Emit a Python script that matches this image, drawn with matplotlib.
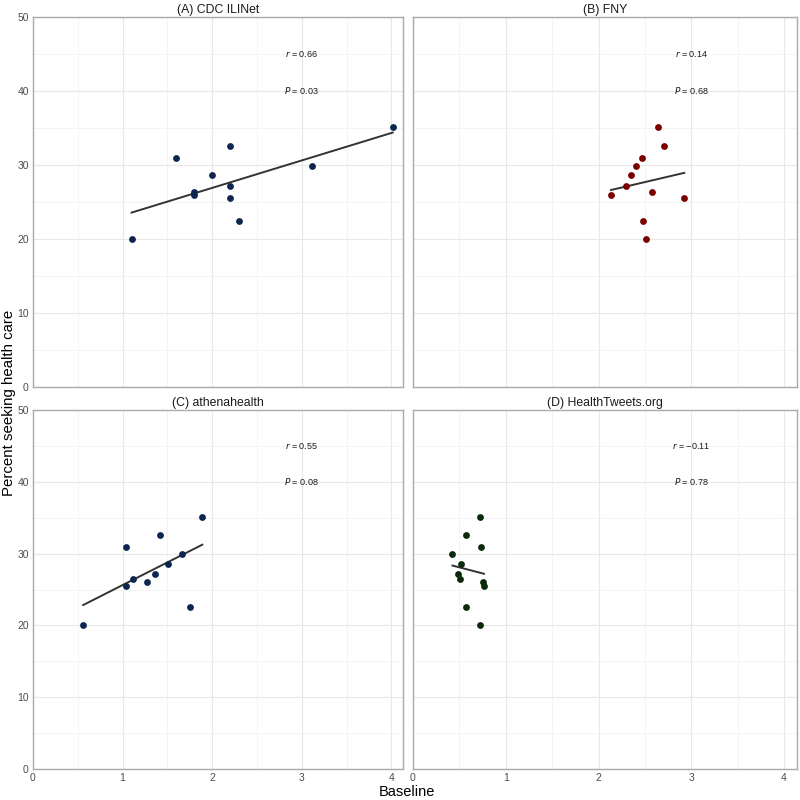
import numpy as np
import matplotlib
matplotlib.use("Agg")
import matplotlib.pyplot as plt
from matplotlib.ticker import MultipleLocator

plt.rcParams['font.family'] = ['Liberation Sans', 'DejaVu Sans']

# Data
percent_seeking = [20.0, 22.5, 25.5, 26.0, 26.4, 27.1, 28.6, 29.9, 30.9, 32.6, 35.1]
cdc_ilinet = [1.10, 2.30, 2.20, 1.80, 1.80, 2.20, 2.00, 3.11, 1.60, 2.20, 4.015]
fny = [2.51, 2.48, 2.925, 2.135, 2.58, 2.30, 2.35, 2.40, 2.47, 2.71, 2.64]
athenahealth = [0.56, 1.755, 1.035, 1.275, 1.115, 1.36, 1.51, 1.66, 1.035, 1.415, 1.89]
healthtweets = [0.72, 0.575, 0.765, 0.755, 0.51, 0.49, 0.52, 0.425, 0.73, 0.575, 0.72]

titles = ["(A) CDC ILINet", "(B) FNY", "(C) athenahealth", "(D) HealthTweets.org"]
r_labels = ["0.66", "0.14", "0.55", "\u22120.11"]
p_labels = ["0.03", "0.68", "0.08", "0.78"]
colors = ["#0c2650", "#7a0000", "#0c2650", "#0b2a0b"]
series = [cdc_ilinet, fny, athenahealth, healthtweets]

W = H = 800
fig = plt.figure(figsize=(8, 8), dpi=100)
# panel positions in pixels: (left, top, right, bottom)
boxes = [(33, 17, 403, 387), (413, 17, 797, 387),
         (33, 410, 403, 769), (413, 410, 797, 769)]

y = np.array(percent_seeking)
for i, (l, t, r, b) in enumerate(boxes):
    ax = fig.add_axes([l / W, 1 - b / H, (r - l) / W, (b - t) / H])
    x = np.array(series[i])
    ax.scatter(x, y, s=24, color=colors[i], zorder=3, linewidths=0)
    k, c = np.polyfit(x, y, 1)
    xs = np.array([x.min(), x.max()])
    ax.plot(xs, k * xs + c, color="#333333", lw=1.4, zorder=2)
    ax.set_xlim(0, 4.13 if i in (0, 2) else 4.14)
    ax.set_ylim(0, 50)
    ax.xaxis.set_major_locator(MultipleLocator(1))
    ax.xaxis.set_minor_locator(MultipleLocator(0.5))
    ax.yaxis.set_major_locator(MultipleLocator(10))
    ax.yaxis.set_minor_locator(MultipleLocator(5))
    ax.grid(which="major", color="#e8e8e8", lw=0.8)
    ax.grid(which="minor", color="#f2f2f2", lw=0.6)
    ax.set_axisbelow(True)
    for s in ax.spines.values():
        s.set_color("#aaaaaa")
        s.set_linewidth(1.0)
    ax.tick_params(which="both", length=0, labelsize=7.5, labelcolor="#4d4d4d", pad=3)
    if i in (0, 1):
        ax.tick_params(labelbottom=False)
    if i in (1, 3):
        ax.tick_params(labelleft=False)
    ax.set_title(titles[i], fontsize=8.8, pad=3, color="#1a1a1a")
    ax.text(3, 45, r"$\it{r}$ = " + r_labels[i], ha="center", va="center", fontsize=6.5, color="#1a1a1a")
    ax.text(3, 40, r"$\it{P}$ = " + p_labels[i], ha="center", va="center", fontsize=6.5, color="#1a1a1a")

fig.text(407 / W, 1 - 792 / H, "Baseline", ha="center", va="center", fontsize=10.5)
fig.text(9.5 / W, 1 - 403 / H, "Percent seeking health care", ha="center", va="center",
         rotation=90, fontsize=10.8)

fig.savefig("out.png", dpi=100)
